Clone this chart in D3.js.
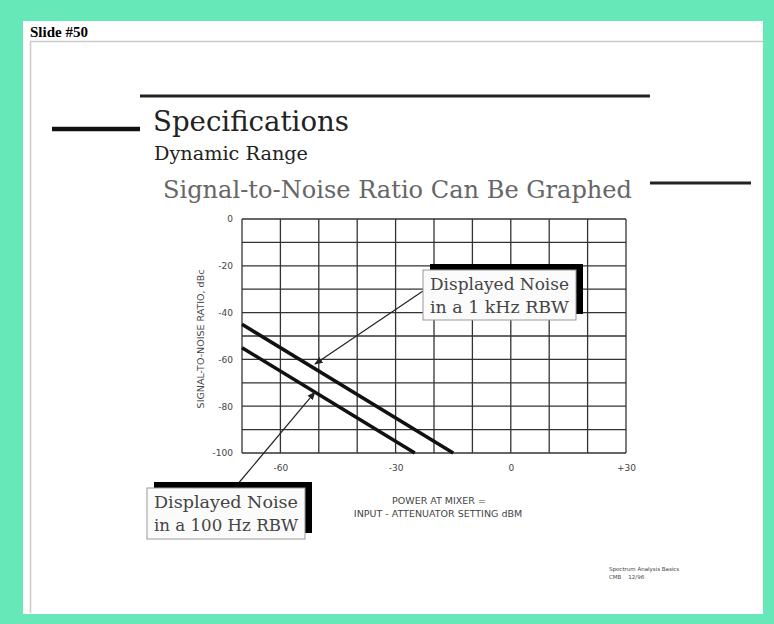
<!DOCTYPE html>
<html lang="en">
<head>
<meta charset="utf-8">
<title>Slide #50</title>
<script src="https://d3js.org/d3.v7.min.js"></script>
<style>
  body { margin: 0; background: #66e8b8; }
  .serif { font-family: "DejaVu Serif", "Liberation Serif", serif; }
  .axis text { font-family: "DejaVu Sans", sans-serif; font-size: 9px; fill: #444; }
  .lab { font-family: "DejaVu Sans", sans-serif; font-size: 9.5px; fill: #444; }
</style>
</head>
<body>
<svg width="774" height="624"></svg>
<script>
// chart values
var powerAtMixer = [-70, -15];          // x, dBm
var noise1kHz = [-45, -100];            // SNR, dBc
var powerAtMixer100 = [-70, -25];
var noise100Hz = [-55, -100];
var xTicks = [-60, -30, 0, 30];
var xTickLabels = ["-60", "-30", "0", "+30"];
var yTicks = [0, -20, -40, -60, -80, -100];
var yTickLabels = ["0", "-20", "-40", "-60", "-80", "-100"];
var gridX = d3.range(-70, 31, 10);
var gridY = d3.range(-100, 1, 10);
// where the callouts point (data units)
var point1k = [-51, -62];
var point100 = [-51, -74];

var svg = d3.select("svg");

// white slide area inside green frame
svg.append("rect").attr("x", 23).attr("y", 21).attr("width", 740).attr("height", 593).attr("fill", "#fff");
svg.append("text").attr("x", 30).attr("y", 37)
  .attr("font-family", "Liberation Serif, serif").attr("font-weight", "bold").attr("font-size", 15)
  .text("Slide #50");
// slide frame lines
svg.append("path").attr("d", "M30.5,613 V41.5 H763").attr("fill", "none").attr("stroke", "#ccc").attr("stroke-width", 1.5);

// title bars
svg.append("line").attr("x1", 140).attr("x2", 650).attr("y1", 96).attr("y2", 96).attr("stroke", "#222").attr("stroke-width", 3);
svg.append("line").attr("x1", 52).attr("x2", 140).attr("y1", 129).attr("y2", 129).attr("stroke", "#111").attr("stroke-width", 4.5);
svg.append("line").attr("x1", 650).attr("x2", 751).attr("y1", 183).attr("y2", 183).attr("stroke", "#222").attr("stroke-width", 3);

svg.append("text").attr("class", "serif").attr("x", 153).attr("y", 131)
  .attr("font-size", 28).attr("fill", "#222").attr("textLength", 196).attr("lengthAdjust", "spacingAndGlyphs")
  .text("Specifications");
svg.append("text").attr("class", "serif").attr("x", 154).attr("y", 160)
  .attr("font-size", 18).attr("fill", "#222").attr("textLength", 154).attr("lengthAdjust", "spacingAndGlyphs")
  .text("Dynamic Range");
svg.append("text").attr("class", "serif").attr("x", 163).attr("y", 198)
  .attr("font-size", 25).attr("fill", "#666").attr("textLength", 469).attr("lengthAdjust", "spacingAndGlyphs")
  .text("Signal-to-Noise Ratio Can Be Graphed");

// plot area
var plotL = 242, plotR = 626, plotT = 219, plotB = 453;
var x = d3.scaleLinear().domain([-70, 30]).range([plotL, plotR]);
var y = d3.scaleLinear().domain([-100, 0]).range([plotB, plotT]);

var g = svg.append("g");
g.selectAll(".gx").data(gridX).enter().append("line")
  .attr("x1", function(d) { return x(d); }).attr("x2", function(d) { return x(d); })
  .attr("y1", plotT).attr("y2", plotB).attr("stroke", "#333").attr("stroke-width", 1.3);
g.selectAll(".gy").data(gridY).enter().append("line")
  .attr("y1", function(d) { return y(d); }).attr("y2", function(d) { return y(d); })
  .attr("x1", plotL).attr("x2", plotR).attr("stroke", "#333").attr("stroke-width", 1.3);

// axes (labels only)
svg.append("g").attr("class", "axis").attr("transform", "translate(0," + (plotB + 6) + ")")
  .call(d3.axisBottom(x).tickValues(xTicks).tickSize(0).tickPadding(6)
    .tickFormat(function(d, i) { return xTickLabels[i]; }));
svg.append("g").attr("class", "axis").attr("transform", "translate(" + (plotL - 9) + ",0)")
  .call(d3.axisLeft(y).tickValues(yTicks).tickSize(0).tickPadding(0)
    .tickFormat(function(d, i) { return yTickLabels[i]; }));
svg.selectAll(".axis .domain").remove();

svg.append("text").attr("class", "lab").attr("transform", "translate(204," + ((plotT + plotB) / 2 + 3) + ") rotate(-90)")
  .attr("text-anchor", "middle").attr("font-size", 8.5).text("SIGNAL-TO-NOISE RATIO, dBc");
svg.append("text").attr("class", "lab").attr("x", 439).attr("y", 504).attr("text-anchor", "middle").text("POWER AT MIXER =");
svg.append("text").attr("class", "lab").attr("x", 438).attr("y", 517).attr("text-anchor", "middle").text("INPUT - ATTENUATOR SETTING dBM");

// noise lines
var line = d3.line().x(function(d) { return x(d[0]); }).y(function(d) { return y(d[1]); });
svg.append("path").datum(d3.zip(powerAtMixer, noise1kHz)).attr("d", line)
  .attr("fill", "none").attr("stroke", "#111").attr("stroke-width", 3.5);
svg.append("path").datum(d3.zip(powerAtMixer100, noise100Hz)).attr("d", line)
  .attr("fill", "none").attr("stroke", "#111").attr("stroke-width", 3.5);

// arrow marker
svg.append("defs").append("marker").attr("id", "ah").attr("viewBox", "0 0 10 10")
  .attr("refX", 9).attr("refY", 5).attr("markerWidth", 7).attr("markerHeight", 7).attr("orient", "auto")
  .append("path").attr("d", "M0,1 L10,5 L0,9 z").attr("fill", "#222");

function callout(bx, by, bw, bh, lines, from, to) {
  svg.append("line").attr("x1", from[0]).attr("y1", from[1])
    .attr("x2", x(to[0])).attr("y2", y(to[1]))
    .attr("stroke", "#222").attr("stroke-width", 1.2).attr("marker-end", "url(#ah)");
  svg.append("rect").attr("x", bx + 7).attr("y", by - 6).attr("width", bw).attr("height", bh).attr("fill", "#000");
  svg.append("rect").attr("x", bx).attr("y", by).attr("width", bw).attr("height", bh)
    .attr("fill", "#fbfbfb").attr("stroke", "#999").attr("stroke-width", 1);
  lines.forEach(function(t, i) {
    svg.append("text").attr("class", "serif").attr("x", bx + bw / 2).attr("y", by + 20 + i * 23)
      .attr("text-anchor", "middle").attr("font-size", 17.5).attr("fill", "#444")
      .attr("textLength", bw - 14).attr("lengthAdjust", "spacingAndGlyphs").text(t);
  });
}
callout(423, 270, 153, 50, ["Displayed Noise", "in a 1 kHz RBW"], [423, 291], point1k);
callout(147, 488, 158, 51, ["Displayed Noise", "in a 100 Hz RBW"], [237, 485], point100);

// footnote
svg.append("text").attr("x", 609).attr("y", 571).attr("font-family", "DejaVu Sans, sans-serif")
  .attr("font-size", 5.5).attr("fill", "#444").text("Spectrum Analysis Basics");
svg.append("text").attr("x", 609).attr("y", 579).attr("font-family", "DejaVu Sans, sans-serif")
  .attr("font-size", 5.5).attr("fill", "#444").style("white-space", "pre").text("CMB    12/96");
</script>
</body>
</html>
